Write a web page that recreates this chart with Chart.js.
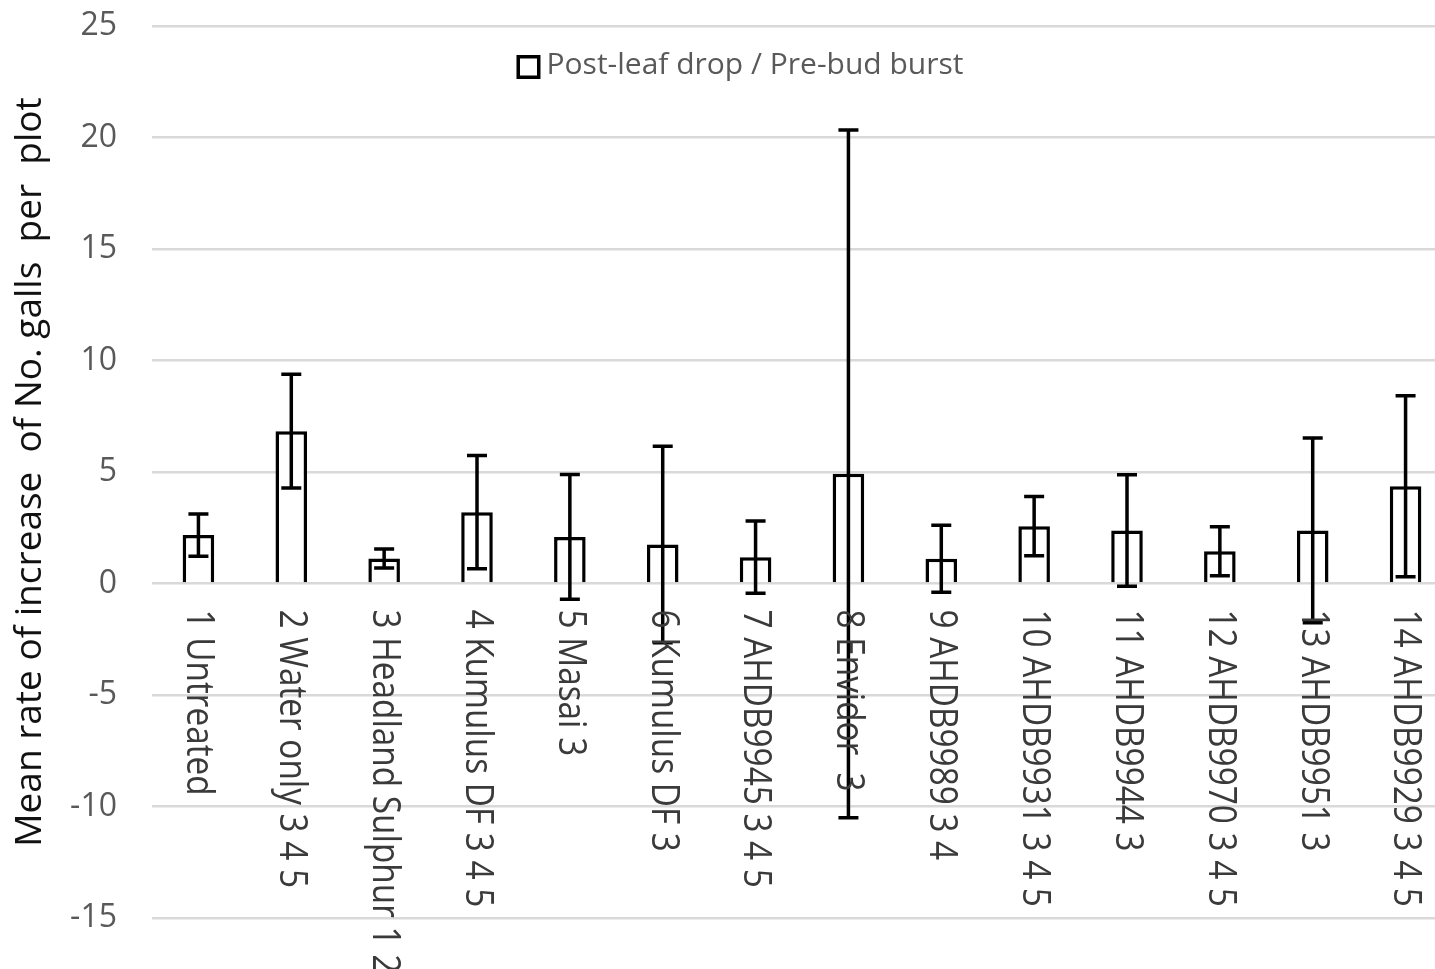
<!DOCTYPE html>
<html>
<head>
<meta charset="utf-8">
<script src="https://cdn.jsdelivr.net/npm/chart.js@4"></script>
<style>
  html, body { margin: 0; padding: 0; background: #fff; overflow: hidden; }
  #wrap { width: 1435px; height: 969px; overflow: hidden; }
</style>
</head>
<body>
<div id="wrap"><canvas id="c" width="1460" height="969"></canvas></div>
<script>
const categories = [
  "1 Untreated",
  "2 Water only 3 4 5",
  "3 Headland Sulphur 1 2",
  "4 Kumulus DF 3 4 5",
  "5 Masai 3",
  "6 Kumulus DF 3",
  "7 AHDB9945 3 4 5",
  "8 Envidor  3",
  "9 AHDB9989 3 4",
  "10 AHDB9931 3 4 5",
  "11 AHDB9944 3",
  "12 AHDB9970 3 4 5",
  "13 AHDB9951 3",
  "14 AHDB9929 3 4 5",
];
const means = [2.17, 6.83, 1.12, 3.2, 2.09, 1.75, 1.18, 4.92, 1.11, 2.57, 2.38, 1.45, 2.38, 4.36];
const errors = [0.95, 2.55, 0.43, 2.54, 2.8, 4.41, 1.62, 15.42, 1.5, 1.33, 2.5, 1.1, 4.14, 4.06];
const seriesName = "Post-leaf drop / Pre-bud burst";
const yTitle = "Mean rate of increase  of No. galls  per  plot";
const yMin = -15;
const yMax = 25;
const yStep = 5;

const font = "'Open Sans', 'Noto Sans', sans-serif";

// error bars drawn on top of the bars
const errorBars = {
  id: "errorBars",
  afterDatasetsDraw(chart) {
    const { ctx } = chart;
    const meta = chart.getDatasetMeta(0);
    const y = chart.scales.y;
    ctx.save();
    ctx.strokeStyle = "#000";
    ctx.lineWidth = 3.5;
    meta.data.forEach((bar, i) => {
      const hi = y.getPixelForValue(means[i] + errors[i]);
      const lo = y.getPixelForValue(means[i] - errors[i]);
      ctx.beginPath();
      ctx.moveTo(bar.x, hi);
      ctx.lineTo(bar.x, lo);
      ctx.moveTo(bar.x - 10, hi);
      ctx.lineTo(bar.x + 10, hi);
      ctx.moveTo(bar.x - 10, lo);
      ctx.lineTo(bar.x + 10, lo);
      ctx.stroke();
    });
    ctx.restore();
  },
};

// category labels hang down from the zero line, rotated clockwise
const catLabels = {
  id: "catLabels",
  afterDraw(chart) {
    const { ctx } = chart;
    const x = chart.scales.x;
    const y0 = chart.scales.y.getPixelForValue(0) + 26;
    ctx.save();
    ctx.fillStyle = "#3a3a3a";
    ctx.font = "34px " + font;
    ctx.textAlign = "left";
    ctx.textBaseline = "middle";
    categories.forEach((lab, i) => {
      ctx.save();
      ctx.translate(x.getPixelForValue(i), y0);
      ctx.rotate(Math.PI / 2);
      ctx.scale(0.98, 1.15);
      ctx.fillText(lab, 0, 0);
      ctx.restore();
    });
    ctx.restore();
  },
};

// legend sits inside the plot near the top
const innerLegend = {
  id: "innerLegend",
  afterDraw(chart) {
    const { ctx } = chart;
    ctx.save();
    ctx.font = "30px " + font;
    const tw = ctx.measureText(seriesName).width;
    const cx = 740;
    const left = cx - (24 + 6 + tw) / 2;
    ctx.fillStyle = "#fff";
    ctx.fillRect(left, 55, 24, 24);
    ctx.strokeStyle = "#000";
    ctx.lineWidth = 3.5;
    ctx.strokeRect(left + 1.75, 56.75, 20.5, 20.5);
    ctx.fillStyle = "#595959";
    ctx.textBaseline = "middle";
    ctx.fillText(seriesName, left + 30, 65);
    ctx.restore();
  },
};

new Chart(document.getElementById("c"), {
  type: "bar",
  data: {
    labels: categories,
    datasets: [
      {
        label: seriesName,
        data: means,
        backgroundColor: "#fff",
        borderColor: "#000",
        borderWidth: 3.5,
        barPercentage: 0.34,
        categoryPercentage: 1,
      },
    ],
  },
  options: {
    responsive: false,
    animation: false,
    layout: { padding: { left: 0, right: 8, top: 26, bottom: 51 } },
    plugins: {
      legend: { display: false },
      tooltip: { enabled: false },
    },
    scales: {
      x: { display: false },
      y: {
        min: yMin,
        max: yMax,
        border: { display: false },
        grid: { color: "#d9d9d9", lineWidth: 2.5, drawTicks: false },
        ticks: {
          stepSize: yStep,
          padding: 35,
          color: "#595959",
          font: { family: font, size: 32 },
        },
        title: {
          display: true,
          text: yTitle,
          color: "#111",
          padding: { top: 8, bottom: 0 },
          font: { family: font, size: 37 },
        },
        afterFit(scale) {
          scale.width = 152;
          scale.paddingTop = 0;
          scale.paddingBottom = 0;
        },
      },
    },
  },
  plugins: [errorBars, catLabels, innerLegend],
});
</script>
</body>
</html>
